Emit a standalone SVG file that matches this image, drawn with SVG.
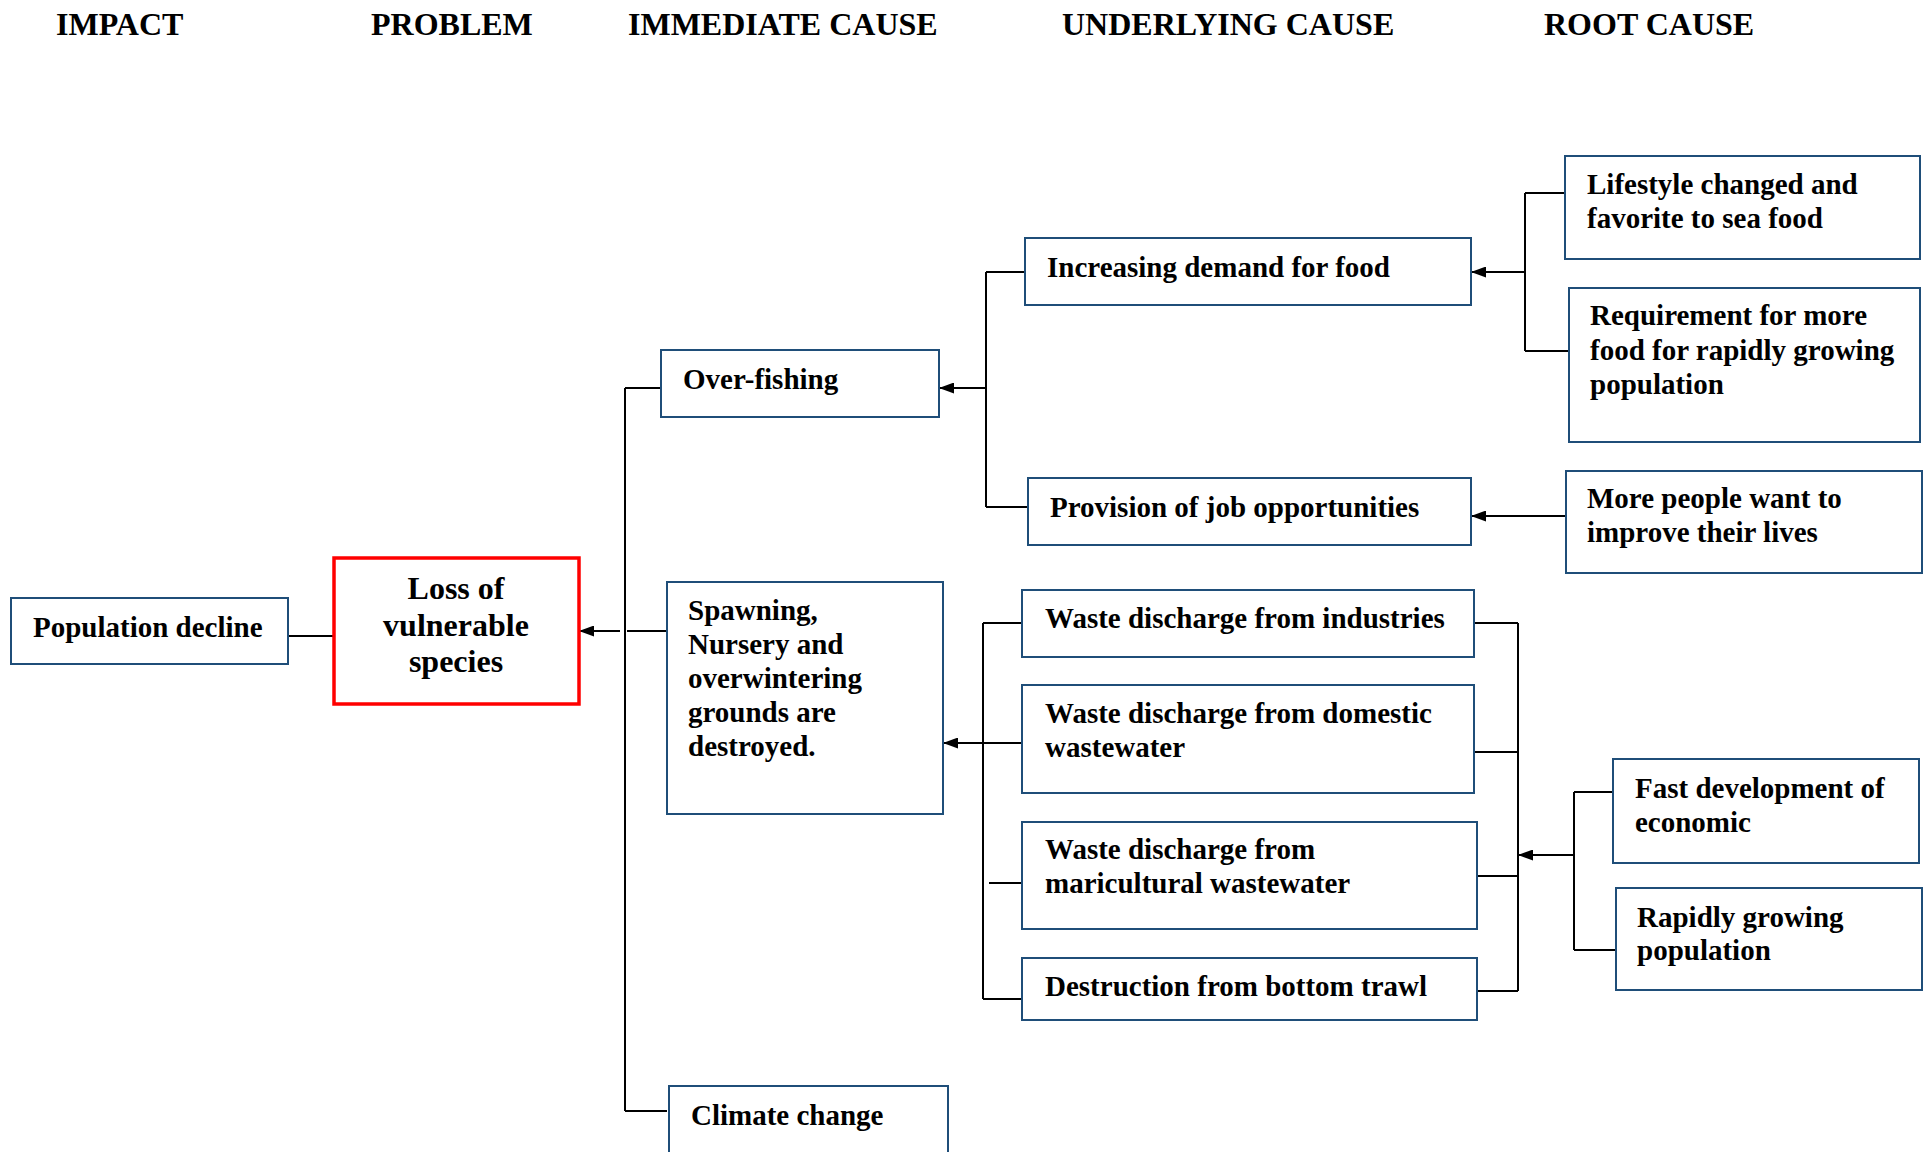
<svg xmlns="http://www.w3.org/2000/svg" width="1926" height="1152" viewBox="0 0 1926 1152">
  <defs>
    <marker id="arrow" markerUnits="userSpaceOnUse" markerWidth="15" markerHeight="11" refX="15" refY="5.5" orient="auto">
      <path d="M0,0 L15,5.5 L0,11 z" fill="#000"/>
    </marker>
    <style>
      text { font-family: "Liberation Serif", "Times New Roman", serif; font-weight: bold; fill: #000; }
      .hdr { font-size: 32px; }
      .lbl { font-size: 29px; }
      .big { font-size: 32px; }
      .box { fill: #fff; stroke: #1f4e79; stroke-width: 2; }
      .key { fill: #fff; stroke: #ff0000; stroke-width: 3.5; }
      .conn line, .conn path { stroke: #000; stroke-width: 2; fill: none; }
      .arr { marker-end: url(#arrow); }
    </style>
  </defs>
  <rect width="1926" height="1152" fill="#fff"/>

  <!-- column headings -->
  <g id="headers">
    <text class="hdr" x="56" y="35">IMPACT</text>
    <text class="hdr" x="371" y="35">PROBLEM</text>
    <text class="hdr" x="628" y="35">IMMEDIATE CAUSE</text>
    <text class="hdr" x="1062" y="35">UNDERLYING CAUSE</text>
    <text class="hdr" x="1544" y="35">ROOT CAUSE</text>
  </g>

  <!-- connectors -->
  <g id="connectors" class="conn">
    <line x1="288" y1="636" x2="334" y2="636"/>
    <!-- immediate causes trunk -->
    <line x1="625" y1="388" x2="625" y2="1111"/>
    <line class="arr" x1="620" y1="631" x2="579" y2="631"/>
    <line x1="627" y1="631" x2="667" y2="631"/>
    <line x1="625" y1="388" x2="661" y2="388"/>
    <line x1="625" y1="1111" x2="667" y2="1111"/>
    <!-- over-fishing bracket -->
    <line x1="986" y1="272" x2="986" y2="507"/>
    <line class="arr" x1="986" y1="388" x2="939" y2="388"/>
    <line x1="986" y1="272" x2="1025" y2="272"/>
    <line x1="986" y1="507" x2="1028" y2="507"/>
    <!-- demand for food bracket -->
    <line x1="1525" y1="193" x2="1525" y2="351"/>
    <line x1="1525" y1="193" x2="1565" y2="193"/>
    <line x1="1525" y1="351" x2="1569" y2="351"/>
    <line class="arr" x1="1525" y1="272" x2="1471" y2="272"/>
    <!-- job opportunities -->
    <line class="arr" x1="1566" y1="516" x2="1471" y2="516"/>
    <!-- spawning grounds bracket -->
    <line x1="983" y1="623" x2="983" y2="999"/>
    <line x1="983" y1="623" x2="1022" y2="623"/>
    <line x1="983" y1="999" x2="1022" y2="999"/>
    <line class="arr" x1="1022" y1="743" x2="943" y2="743"/>
    <line x1="989" y1="883" x2="1022" y2="883"/>
    <!-- pollution sources bracket -->
    <line x1="1518" y1="623" x2="1518" y2="991"/>
    <line x1="1474" y1="623" x2="1518" y2="623"/>
    <line x1="1474" y1="752" x2="1518" y2="752"/>
    <line x1="1473" y1="876" x2="1518" y2="876"/>
    <line x1="1477" y1="991" x2="1518" y2="991"/>
    <!-- economy / population bracket -->
    <line class="arr" x1="1574" y1="855" x2="1518" y2="855"/>
    <line x1="1574" y1="792" x2="1574" y2="950"/>
    <line x1="1574" y1="792" x2="1613" y2="792"/>
    <line x1="1574" y1="950" x2="1616" y2="950"/>
  </g>

  <!-- impact -->
  <g id="population-decline">
    <rect class="box" x="11" y="598" width="277" height="66"/>
    <text class="lbl" x="33" y="637">Population decline</text>
  </g>

  <!-- problem -->
  <g id="loss-of-species">
    <rect class="key" x="334" y="558" width="245" height="146"/>
    <text class="big" x="456" y="599" text-anchor="middle">Loss of</text>
    <text class="big" x="456" y="636" text-anchor="middle">vulnerable</text>
    <text class="big" x="456" y="672" text-anchor="middle">species</text>
  </g>

  <!-- immediate causes -->
  <g id="over-fishing">
    <rect class="box" x="661" y="350" width="278" height="67"/>
    <text class="lbl" x="683" y="389">Over-fishing</text>
  </g>
  <g id="spawning-grounds">
    <rect class="box" x="667" y="582" width="276" height="232"/>
    <text class="lbl" x="688" y="620">Spawning,</text>
    <text class="lbl" x="688" y="654">Nursery and</text>
    <text class="lbl" x="688" y="688">overwintering</text>
    <text class="lbl" x="688" y="722">grounds are</text>
    <text class="lbl" x="688" y="756">destroyed.</text>
  </g>
  <g id="climate-change">
    <rect class="box" x="669" y="1086" width="279" height="70"/>
    <text class="lbl" x="691" y="1125">Climate change</text>
  </g>

  <!-- underlying causes -->
  <g id="demand-for-food">
    <rect class="box" x="1025" y="238" width="446" height="67"/>
    <text class="lbl" x="1047" y="277">Increasing demand for food</text>
  </g>
  <g id="job-opportunities">
    <rect class="box" x="1028" y="478" width="443" height="67"/>
    <text class="lbl" x="1050" y="517">Provision of job opportunities</text>
  </g>
  <g id="waste-industries">
    <rect class="box" x="1022" y="590" width="452" height="67"/>
    <text class="lbl" x="1045" y="628">Waste discharge from industries</text>
  </g>
  <g id="waste-domestic">
    <rect class="box" x="1022" y="685" width="452" height="108"/>
    <text class="lbl" x="1045" y="723">Waste discharge from domestic</text>
    <text class="lbl" x="1045" y="757">wastewater</text>
  </g>
  <g id="waste-maricultural">
    <rect class="box" x="1022" y="822" width="455" height="107"/>
    <text class="lbl" x="1045" y="859">Waste discharge from</text>
    <text class="lbl" x="1045" y="893">maricultural wastewater</text>
  </g>
  <g id="bottom-trawl">
    <rect class="box" x="1022" y="958" width="455" height="62"/>
    <text class="lbl" x="1045" y="996">Destruction from bottom trawl</text>
  </g>

  <!-- root causes -->
  <g id="lifestyle">
    <rect class="box" x="1565" y="156" width="355" height="103"/>
    <text class="lbl" x="1587" y="194">Lifestyle changed and</text>
    <text class="lbl" x="1587" y="228">favorite to sea food</text>
  </g>
  <g id="food-requirement">
    <rect class="box" x="1569" y="288" width="351" height="154"/>
    <text class="lbl" x="1590" y="325">Requirement for more</text>
    <text class="lbl" x="1590" y="360">food for rapidly growing</text>
    <text class="lbl" x="1590" y="394">population</text>
  </g>
  <g id="improve-lives">
    <rect class="box" x="1566" y="471" width="356" height="102"/>
    <text class="lbl" x="1587" y="508">More people want to</text>
    <text class="lbl" x="1587" y="542">improve their lives</text>
  </g>
  <g id="economic-development">
    <rect class="box" x="1613" y="759" width="306" height="104"/>
    <text class="lbl" x="1635" y="798">Fast development of</text>
    <text class="lbl" x="1635" y="832">economic</text>
  </g>
  <g id="population-growth">
    <rect class="box" x="1616" y="888" width="306" height="102"/>
    <text class="lbl" x="1637" y="927">Rapidly growing</text>
    <text class="lbl" x="1637" y="960">population</text>
  </g>
</svg>
